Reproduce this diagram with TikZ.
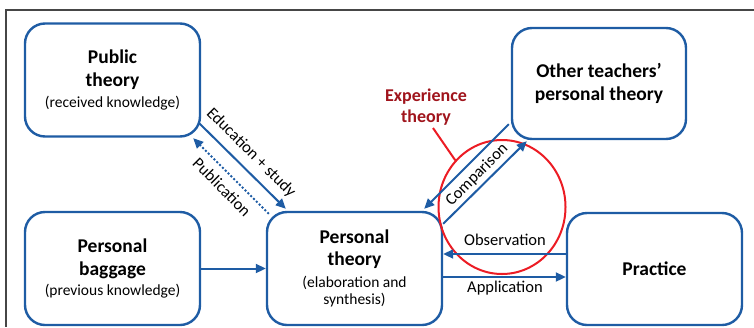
\documentclass[tikz,border=0pt]{standalone}
\usepackage{fontspec}
\setmainfont{Carlito}
\usetikzlibrary{arrows.meta,calc,shapes.geometric}
\definecolor{bblue}{RGB}{30,92,164}
\definecolor{dred}{RGB}{160,20,28}
\definecolor{rred}{RGB}{236,28,36}
\definecolor{framecol}{RGB}{70,70,70}
\newcommand{\bigtxt}{\fontsize{19.5}{24}\selectfont\bfseries}
\newcommand{\smalltxt}{\fontsize{15.5}{19.5}\selectfont\mdseries}
\begin{document}
\begin{tikzpicture}[x=1pt,y=-1pt,
  box/.style={draw=bblue,line width=2.4pt,rounded corners=20pt,fill=white,
    minimum width=175pt,minimum height=113pt,align=center,inner sep=0pt},
  conn/.style={draw=bblue,line width=2pt,-{Triangle[length=10pt,width=9pt]}},
  lbl/.style={font=\fontsize{16.5}{18}\selectfont,inner sep=0pt}]
\useasboundingbox (0,0) rectangle (754,327);
\draw[framecol,line width=1.3pt] (754,10) -- (6,10) -- (6,327);
\node[box] (pub) at (112.5,80)
  {\bigtxt Public\\[8pt]\bigtxt theory\\[5pt]\smalltxt (received knowledge)};
\node[box,minimum width=174pt,minimum height=111pt] (oth) at (599,83.5)
  {\bigtxt Other teachers'\\[8pt]\bigtxt personal theory};
\node[box] (bag) at (112.5,268.5)
  {\bigtxt Personal\\[8pt]\bigtxt baggage\\[5pt]\smalltxt (previous knowledge)};
\node[box] (pt) at (354.5,268.5)
  {\bigtxt Personal\\[7pt]\bigtxt theory\\[7pt]\smalltxt (elaboration and\\[3pt]\smalltxt synthesis)};
\node[box,minimum height=112pt] (pra) at (654.5,269)
  {\bigtxt Practice};
% red ellipse
\node[draw=rred,line width=2pt,ellipse,minimum width=127pt,minimum height=134pt,inner sep=0pt] (exp) at (502,207) {};
\node[text=dred,align=center,inner sep=0pt] (expl) at (426,107)
  {\fontsize{18}{21}\selectfont\bfseries Experience\\[4pt]\fontsize{18}{21}\selectfont\bfseries theory};
\draw[rred,line width=2pt] (433,128) -- (exp.135);
% connectors
\draw[conn] ($(pub.south east)+(-2,-14.5)$) -- ($(pt.north west)+(20,-2)$);
\draw[conn,dotted,line width=2pt] ($(pt.north west)+(3,3)$) -- ($(pub.south east)+(-8,0.5)$);
\draw[conn] (bag.east) -- (pt.west);
\draw[conn] ($(oth.south west)+(-2,-16)$) -- ($(pt.north east)+(-19,-2)$);
\draw[conn] ($(pt.north east)+(0,13)$) -- ($(oth.south west)+(16,1)$);
\draw[conn] ($(pra.west)+(0,-15)$) -- ($(pt.east)+(0,-14.5)$);
\draw[conn] ($(pt.east)+(0,8.5)$) -- ($(pra.west)+(0,8)$);
% labels
\node[lbl,rotate=-45] (le) at (251,153) {Education + study};
\node[lbl,rotate=-45] (lp) at (222,187) {Publication};
\node[lbl,rotate=45] (lc) at (477,175) {Comparison};
\node[lbl] (lo) at (505,240) {Observation};
\node[lbl] (la) at (505,288) {Application};
\end{tikzpicture}
\end{document}
